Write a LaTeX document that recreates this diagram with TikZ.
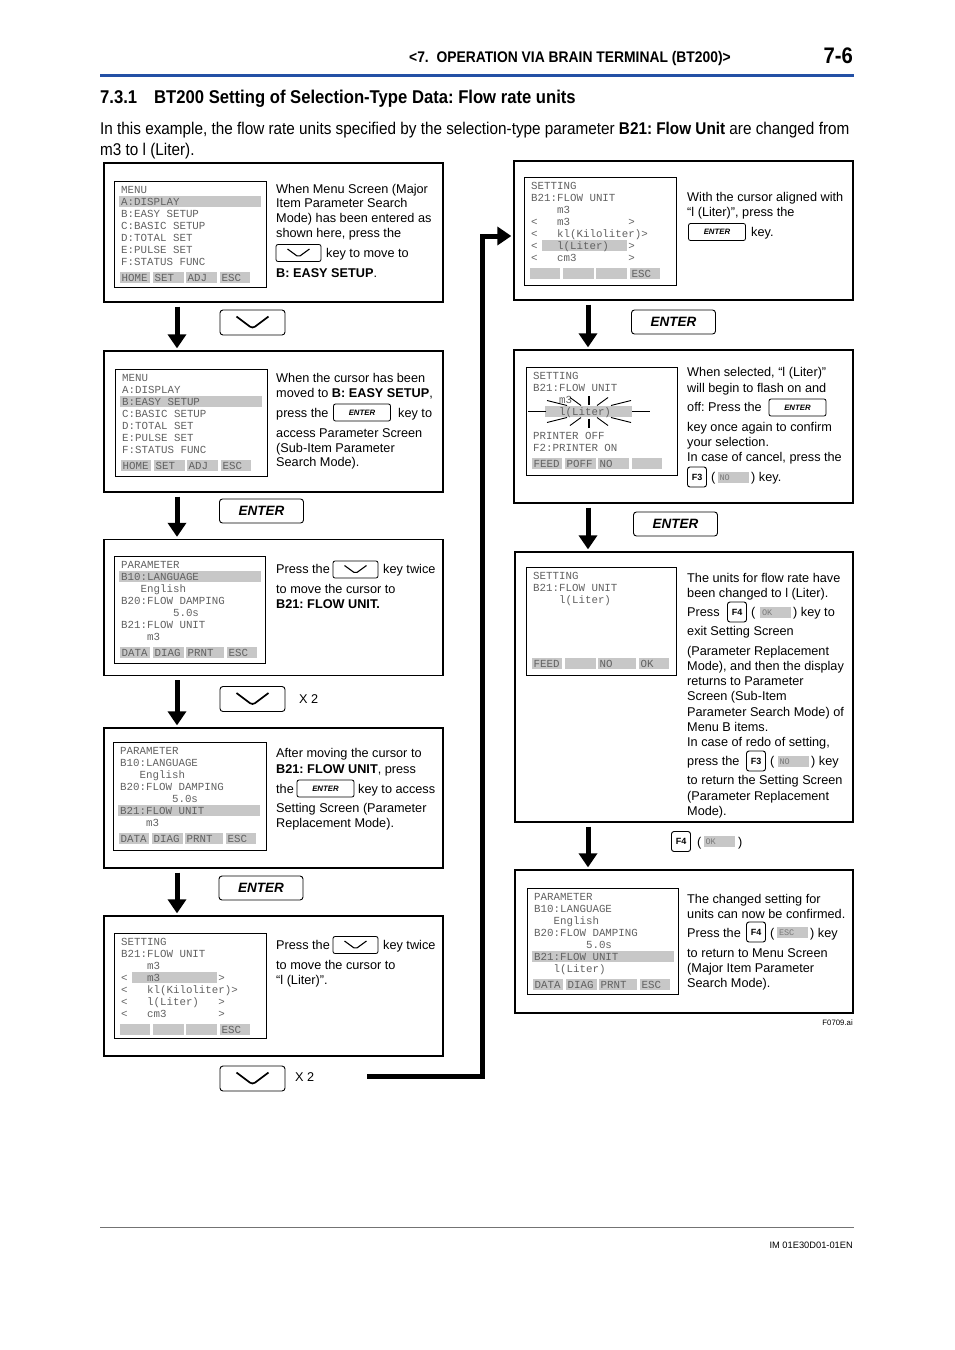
\documentclass[tikz,border=0pt]{standalone}
\usepackage{fontspec}
\setmainfont{Liberation Sans}
\newfontfamily\condfont[FakeStretch=0.9]{Liberation Sans}
\newfontfamily\lcdfont{Liberation Mono}
\usetikzlibrary{arrows.meta}
\frenchspacing
\definecolor{headblue}{RGB}{35,80,165}
\colorlet{lcdink}{black!62}
\colorlet{lcdhl}{black!22}

\newcommand{\lcdrows}[1]{\foreach \lcdline [count=\n from 0] in {#1} \node[lcdrow] at (7,{8.5+12*\n}) {\lcdline};}
\newcommand{\lcdkeys}[1]{\foreach \x/\w/\lbl in {#1} {\fill[lcdhl] (\x,91) rectangle ++(\w,11); \node[lcdrow] at ({\x+1.5},96.5) {\lbl};}}
\newcommand{\lcdbar}[3]{\fill[lcdhl] (#1,{3+12*#3}) rectangle (#2,{14+12*#3});}

\tikzset{
  stepbox/.style={draw, line width=1.3pt, minimum width=339pt, inner sep=0pt},
  flow/.style={line width=5pt, -{Triangle[length=14pt,width=18pt]}, shorten <=4pt, shorten >=2pt},
  lcdframe/.style={line width=0.9pt},
  lcdrow/.style={anchor=west, inner sep=0pt, text height=7.5pt, text depth=0.5pt, text=lcdink, font=\lcdfont\fontsize{10.8}{12}\selectfont},
  note/.style={anchor=base west, inner sep=0pt, font=\fontsize{12.7}{15}\selectfont},
  bigkey/.style={draw, rounded corners=3pt, line width=0.9pt, minimum width=84pt, minimum height=24pt, inner sep=0pt, font=\bfseries\itshape\fontsize{13.5}{13.5}\selectfont},
  enterkey/.style={draw, rounded corners=2pt, line width=0.8pt, minimum width=57pt, minimum height=17pt, inner sep=0pt, font=\bfseries\itshape\fontsize{7.8}{7.8}\selectfont},
  downkey/.style={draw, rounded corners=3pt, line width=0.9pt, minimum width=65pt, minimum height=25pt, inner sep=0pt,
    path picture={\draw[line width=1.7pt] ([xshift=-16pt,yshift=6pt]path picture bounding box.center) -- ++(16pt,-12pt) -- ++(16pt,12pt);}},
  smalldown/.style={draw, rounded corners=2pt, line width=0.8pt, minimum width=45pt, minimum height=17pt, inner sep=0pt,
    path picture={\draw[line width=1.1pt] ([xshift=-11pt,yshift=4pt]path picture bounding box.center) -- ++(11pt,-8pt) -- ++(11pt,8pt);}},
  fkey/.style={draw, rounded corners=2.5pt, line width=0.9pt, minimum width=19pt, minimum height=20pt, inner sep=0pt, font=\bfseries\fontsize{9}{9}\selectfont},
  softtag/.style={fill=lcdhl, minimum height=11pt, inner xsep=2pt, inner ysep=0pt, text width=27pt, align=left, text height=6pt, text depth=0pt, text=lcdink!85, font=\lcdfont\fontsize{8.5}{8.5}\selectfont},
  ray/.style={line width=0.9pt}
}

\begin{document}
\begin{tikzpicture}[x=1pt, y=-1pt]
\useasboundingbox (0,0) rectangle (954,1350);

% page head
\node[anchor=base east, inner sep=0pt, font=\condfont\bfseries\fontsize{15.4}{15.4}\selectfont] (chap) at (731,62) {<7.\ \ OPERATION VIA BRAIN TERMINAL (BT200)>};
\node[anchor=base east, inner sep=0pt, font=\condfont\bfseries\fontsize{22.5}{22.5}\selectfont] (pageno) at (853,63) {7-6};
\draw[headblue, line width=3pt] (100,75) -- (854,75);
\node[anchor=base west, inner sep=0pt, font=\condfont\bfseries\fontsize{18.5}{18.5}\selectfont] (secno) at (100,103.5) {7.3.1};
\node[anchor=base west, inner sep=0pt, font=\condfont\bfseries\fontsize{18.5}{18.5}\selectfont] (sectitle) at (154,103.5) {BT200 Setting of Selection-Type Data: Flow rate units};
\node[anchor=base west, inner sep=0pt, font=\condfont\fontsize{17}{17}\selectfont] (introa) at (100,134) {In this example, the flow rate units specified by the selection-type parameter \textbf{B21: Flow Unit} are changed from};
\node[anchor=base west, inner sep=0pt, font=\condfont\fontsize{17}{17}\selectfont] (introb) at (100,155) {m3 to l (Liter).};

% step boxes
\node[stepbox, minimum height=139pt] (s1) at (273.5,232.5) {};
\node[stepbox, minimum height=141pt] (s2) at (273.5,421.5) {};
\node[stepbox, minimum height=136pt] (s3) at (273.5,607.5) {};
\node[stepbox, minimum height=140pt] (s4) at (273.5,798) {};
\node[stepbox, minimum height=140pt] (s5) at (273.5,986) {};
\node[stepbox, minimum height=139pt] (s6) at (683.5,230.5) {};
\node[stepbox, minimum height=153pt] (s7) at (683.5,426.5) {};
\node[stepbox, minimum height=270pt, minimum width=338pt] (s8) at (684,687) {};
\node[stepbox, minimum height=143pt, minimum width=338pt] (s9) at (684,941.5) {};

% arrows
\coordinate (colL) at (177,0);
\coordinate (colR) at (588,0);
\draw[flow] (s1.south -| colL) -- (s2.north -| colL);
\draw[flow] (s2.south -| colL) -- (s3.north -| colL);
\draw[flow] (s3.south -| colL) -- (s4.north -| colL);
\draw[flow] (s4.south -| colL) -- (s5.north -| colL);
\draw[flow] (s6.south -| colR) -- (s7.north -| colR);
\draw[flow] (s7.south -| colR) -- (s8.north -| colR);
\draw[flow] (s8.south -| colR) -- (s9.north -| colR);
\coordinate (loopin) at (367,1076);
\coordinate (riser) at (482,236);
\draw[flow, shorten <=0pt] (loopin) -| (riser) -- (s6.west |- riser);

% keys between the steps
\node[downkey] (k12) at (252.5,322.5) {};
\node[bigkey] (k23) at (261.5,511) {ENTER};
\node[downkey] (k34) at (252.5,699) {};
\node[note] (x34) at (299,703.5) {X 2};
\node[bigkey] (k45) at (261,888) {ENTER};
\node[downkey] (k56) at (252.5,1078.5) {};
\node[note] (x56) at (295,1081.5) {X 2};
\node[bigkey] (k67) at (673.5,322) {ENTER};
\node[bigkey] (k78) at (675.5,524) {ENTER};
\node[fkey] (k89) at (681,841.5) {F4};
\node[note] (k89a) at (697,846) {(};
\node[softtag] (k89b) at (719,841.5) {OK};
\node[note] (k89c) at (738,846) {)};

% screen 1
\begin{scope}[shift={(114,181)}]
  \draw[lcdframe] (0,0) rectangle (152,106);
  \lcdbar{5}{147}{1}
  \lcdrows{MENU,A:DISPLAY,B:EASY~SETUP,C:BASIC~SETUP,D:TOTAL~SET,E:PULSE~SET,F:STATUS~FUNC}
  \lcdkeys{6/30/HOME,39/31/SET,72/31/ADJ,106/30/ESC}
\end{scope}
% screen 2
\begin{scope}[shift={(115,369)}]
  \draw[lcdframe] (0,0) rectangle (152,107);
  \lcdbar{5}{147}{2}
  \lcdrows{MENU,A:DISPLAY,B:EASY~SETUP,C:BASIC~SETUP,D:TOTAL~SET,E:PULSE~SET,F:STATUS~FUNC}
  \lcdkeys{6/30/HOME,39/31/SET,72/31/ADJ,106/30/ESC}
\end{scope}
% screen 3
\begin{scope}[shift={(114,556)}]
  \draw[lcdframe] (0,0) rectangle (151,107);
  \lcdbar{5}{147}{1}
  \lcdrows{PARAMETER,B10:LANGUAGE,~~~English,B20:FLOW~DAMPING,~~~~~~~~5.0s,B21:FLOW~UNIT,~~~~m3}
  \lcdkeys{6/30/DATA,39/31/DIAG,72/38/PRNT,113/30/ESC}
\end{scope}
% screen 4
\begin{scope}[shift={(113,742)}]
  \draw[lcdframe] (0,0) rectangle (153,108);
  \lcdbar{5}{147}{5}
  \lcdrows{PARAMETER,B10:LANGUAGE,~~~English,B20:FLOW~DAMPING,~~~~~~~~5.0s,B21:FLOW~UNIT,~~~~m3}
  \lcdkeys{6/30/DATA,39/31/DIAG,72/38/PRNT,113/30/ESC}
\end{scope}
% screen 5
\begin{scope}[shift={(114,933)}]
  \draw[lcdframe] (0,0) rectangle (152,105);
  \lcdbar{18}{103}{3}
  \lcdrows{SETTING,B21:FLOW~UNIT,~~~~m3,<~~~m3~~~~~~~~~>,<~~~kl(Kiloliter)>,<~~~l(Liter)~~~>,<~~~cm3~~~~~~~~>}
  \lcdkeys{6/30/{},39/31/{},72/31/{},106/30/ESC}
\end{scope}
% screen 6
\begin{scope}[shift={(524,177)}]
  \draw[lcdframe] (0,0) rectangle (152,108);
  \lcdbar{18}{103}{5}
  \lcdrows{SETTING,B21:FLOW~UNIT,~~~~m3,<~~~m3~~~~~~~~~>,<~~~kl(Kiloliter)>,<~~~l(Liter)~~~>,<~~~cm3~~~~~~~~>}
  \lcdkeys{6/30/{},39/31/{},72/31/{},106/30/ESC}
\end{scope}
% screen 7
\begin{scope}[shift={(526,367)}]
  \draw[lcdframe] (0,0) rectangle (151,108);
  \lcdbar{19}{106}{3}
  \lcdrows{SETTING,B21:FLOW~UNIT,~~~~m3,~~~~l(Liter),{},PRINTER~OFF,F2:PRINTER~ON}
  \lcdkeys{6/30/FEED,39/31/POFF,72/31/NO,106/30/{}}
\end{scope}
% flashing marks round l(Liter)
\foreach \sx in {1,-1} \foreach \sy in {1,-1} {
  \draw[ray] ({589+\sx*22},{411.5+\sy*6}) -- ({589+\sx*42},{411.5+\sy*11});
  \draw[ray] ({589+\sx*8},{411.5+\sy*6}) -- ({589+\sx*19},{411.5+\sy*14});
}
\foreach \sx in {1,-1} \draw[ray] ({589+\sx*43},411.5) -- ({589+\sx*61},411.5);
\foreach \sy in {1,-1} \draw[line width=1.6pt] (589,{411.5+\sy*7}) -- (589,{411.5+\sy*16});
% screen 8
\begin{scope}[shift={(526,567)}]
  \draw[lcdframe] (0,0) rectangle (150,108);
  \lcdrows{SETTING,B21:FLOW~UNIT,~~~~l(Liter)}
  \lcdkeys{6/30/FEED,39/31/{},72/38/NO,113/30/OK}
\end{scope}
% screen 9
\begin{scope}[shift={(527,888)}]
  \draw[lcdframe] (0,0) rectangle (151,106);
  \lcdbar{5}{147}{5}
  \lcdrows{PARAMETER,B10:LANGUAGE,~~~English,B20:FLOW~DAMPING,~~~~~~~~5.0s,B21:FLOW~UNIT,~~~l(Liter)}
  \lcdkeys{6/30/DATA,39/31/DIAG,72/38/PRNT,113/30/ESC}
\end{scope}

% step 1 text
\node[note] (t1a) at (276,193) {When Menu Screen (Major};
\node[note] (t1b) at (276,207.5) {Item Parameter Search};
\node[note] (t1c) at (276,222.5) {Mode) has been entered as};
\node[note] (t1d) at (276,237.5) {shown here, press the};
\node[smalldown] (t1k) at (298.5,253) {};
\node[note] (t1e) at (326,257.5) {key to move to};
\node[note] (t1f) at (276,277.5) {\textbf{B: EASY SETUP}.};
% step 2 text
\node[note] (t2a) at (276,382) {When the cursor has been};
\node[note] (t2b) at (276,397) {moved to \textbf{B: EASY SETUP},};
\node[note] (t2c) at (276,417) {press the};
\node[enterkey] (t2k) at (362,412.5) {ENTER};
\node[note] (t2d) at (398,417) {key to};
\node[note] (t2e) at (276,437) {access Parameter Screen};
\node[note] (t2f) at (276,452) {(Sub-Item Parameter};
\node[note] (t2g) at (276,466) {Search Mode).};
% step 3 text
\node[note] (t3a) at (276,573.5) {Press the};
\node[smalldown] (t3k) at (355.5,569.5) {};
\node[note] (t3b) at (383,573.5) {key twice};
\node[note] (t3c) at (276,593.5) {to move the cursor to};
\node[note] (t3d) at (276,608.5) {\textbf{B21: FLOW UNIT.}};
% step 4 text
\node[note] (t4a) at (276,757) {After moving the cursor to};
\node[note] (t4b) at (276,773) {\textbf{B21: FLOW UNIT}, press};
\node[note] (t4c) at (276,793) {the};
\node[enterkey] (t4k) at (325.5,788.5) {ENTER};
\node[note] (t4d) at (358,793) {key to access};
\node[note] (t4e) at (276,812) {Setting Screen (Parameter};
\node[note] (t4f) at (276,827) {Replacement Mode).};
% step 5 text
\node[note] (t5a) at (276,949.5) {Press the};
\node[smalldown] (t5k) at (355.5,945) {};
\node[note] (t5b) at (383,949.5) {key twice};
\node[note] (t5c) at (276,969.5) {to move the cursor to};
\node[note] (t5d) at (276,984.5) {“l (Liter)”.};
% step 6 text
\node[note] (t6a) at (687,201) {With the cursor aligned with};
\node[note] (t6b) at (687,216.5) {“l (Liter)”, press the};
\node[enterkey] (t6k) at (717,232) {ENTER};
\node[note] (t6c) at (751,236.5) {key.};
% step 7 text
\node[note] (t7a) at (687,376.5) {When selected, “l (Liter)”};
\node[note] (t7b) at (687,392.5) {will begin to flash on and};
\node[note] (t7c) at (687,411.5) {off: Press the};
\node[enterkey] (t7k) at (797.5,407.5) {ENTER};
\node[note] (t7d) at (687,431.5) {key once again to confirm};
\node[note] (t7e) at (687,446.5) {your selection.};
\node[note] (t7f) at (687,461.5) {In case of cancel, press the};
\node[fkey] (t7g) at (697,477) {F3};
\node[note] (t7h) at (711,481.5) {(};
\node[softtag] (t7i) at (733,477.5) {NO};
\node[note] (t7j) at (751,481.5) {) key.};
% step 8 text
\node[note] (t8a) at (687,582.5) {The units for flow rate have};
\node[note] (t8b) at (687,597.5) {been changed to l (Liter).};
\node[note] (t8c) at (687,616.5) {Press};
\node[fkey] (t8d) at (737,612) {F4};
\node[note] (t8e) at (751,616.5) {(};
\node[softtag] (t8f) at (775.5,612) {OK};
\node[note] (t8g) at (793,616.5) {) key to};
\node[note] (t8h) at (687,635.5) {exit Setting Screen};
\node[note] (t8i) at (687,655.5) {(Parameter Replacement};
\node[note] (t8j) at (687,670.5) {Mode), and then the display};
\node[note] (t8k) at (687,685.5) {returns to Parameter};
\node[note] (t8l) at (687,700.5) {Screen (Sub-Item};
\node[note] (t8m) at (687,716.5) {Parameter Search Mode) of};
\node[note] (t8n) at (687,731.5) {Menu B items.};
\node[note] (t8o) at (687,746.5) {In case of redo of setting,};
\node[note] (t8p) at (687,765.5) {press the};
\node[fkey] (t8q) at (756,761) {F3};
\node[note] (t8r) at (770,765.5) {(};
\node[softtag] (t8s) at (793,761) {NO};
\node[note] (t8t) at (811,765.5) {) key};
\node[note] (t8u) at (687,784.5) {to return the Setting Screen};
\node[note] (t8v) at (687,800.5) {(Parameter Replacement};
\node[note] (t8w) at (687,815.5) {Mode).};
% step 9 text
\node[note] (t9a) at (687,903.5) {The changed setting for};
\node[note] (t9b) at (687,918.5) {units can now be confirmed.};
\node[note] (t9c) at (687,937.5) {Press the};
\node[fkey] (t9d) at (756,932) {F4};
\node[note] (t9e) at (770,937.5) {(};
\node[softtag] (t9f) at (792.5,932) {ESC};
\node[note] (t9g) at (810,937.5) {) key};
\node[note] (t9h) at (687,957.5) {to return to Menu Screen};
\node[note] (t9i) at (687,972.5) {(Major Item Parameter};
\node[note] (t9j) at (687,987.5) {Search Mode).};

% figure tag and foot
\node[anchor=base east, inner sep=0pt, font=\fontsize{7.8}{8}\selectfont] (figtag) at (853,1025) {F0709.ai};
\draw[black!55, line width=0.6pt] (100,1227) -- (854,1227);
\node[anchor=base east, inner sep=0pt, font=\fontsize{9.3}{10}\selectfont] (docno) at (853,1248) {IM 01E30D01-01EN};
\end{tikzpicture}
\end{document}
